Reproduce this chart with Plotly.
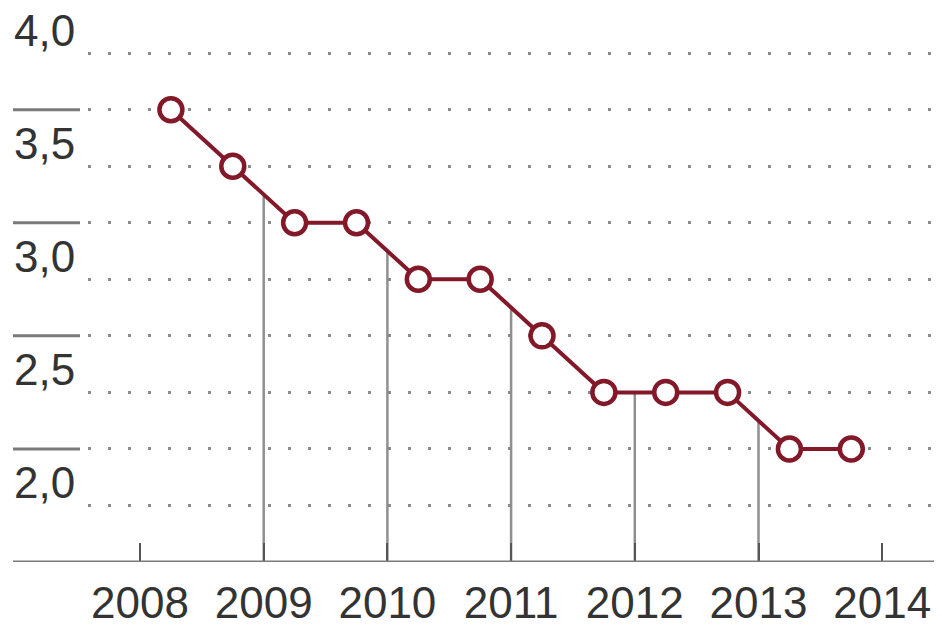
import plotly.graph_objects as go

# Data
x_dates = [2008.25, 2008.75, 2009.25, 2009.75, 2010.25, 2010.75,
           2011.25, 2011.75, 2012.25, 2012.75, 2013.25, 2013.75]
values = [3.5, 3.25, 3.0, 3.0, 2.75, 2.75, 2.5, 2.25, 2.25, 2.25, 2.0, 2.0]
years = [2008, 2009, 2010, 2011, 2012, 2013, 2014]
y_label_vals = [2.0, 2.5, 3.0, 3.5, 4.0]
y_label_text = ["2,0", "2,5", "3,0", "3,5", "4,0"]

# page has 8px body margin -> design figure as viewport minus offset
OFF = 8
W, H = 942 - OFF, 627 - OFF
L = 88 - OFF
R, T = 0, 0
px_per_year = 123.7
px_per_unit = 227.3
base_px = 564.8 - OFF
B = H - base_px
plot_w = W - L - R
plot_h = H - T - B
x0 = 2008 + (88 - 140) / px_per_year
x1 = 2008 + (942 - 140) / px_per_year
y_lo = 1.5
y_hi = y_lo + plot_h / px_per_unit

LINE = "#821828"
TXT = "#333333"
FONT = "Liberation Sans"

fig = go.Figure()

fig.add_trace(go.Scatter(
    x=x_dates, y=values, mode="lines+markers",
    line=dict(color=LINE, width=4),
    marker=dict(size=23, color="white", line=dict(color=LINE, width=4.5)),
    cliponaxis=False, showlegend=False, hoverinfo="skip"))


def px_to_paper(px):
    # px in reference-image coordinates
    return (px - OFF - L) / plot_w


def val_to_paper(v):
    return (v - y_lo) / (y_hi - y_lo)


shapes = []
# vertical connectors at mid-year
for i in range(len(x_dates) - 1):
    if i % 2 == 1:
        xm = (x_dates[i] + x_dates[i + 1]) / 2
        ym = (values[i] + values[i + 1]) / 2
        shapes.append(dict(type="line", xref="x", yref="y", x0=xm, x1=xm,
                           y0=y_lo, y1=ym, layer="below",
                           line=dict(color="#8f8f8f", width=2.5)))

# baseline
shapes.append(dict(type="line", xref="paper", yref="y", x0=px_to_paper(13), x1=1,
                   y0=y_lo, y1=y_lo, line=dict(color="#7a7a7a", width=3)))

# short solid lines by labels
for v in y_label_vals:
    shapes.append(dict(type="line", xref="paper", yref="paper",
                       x0=px_to_paper(13), x1=px_to_paper(80),
                       y0=val_to_paper(v), y1=val_to_paper(v),
                       line=dict(color="#7a7a7a", width=3)))

annotations = []
for v, t in zip(y_label_vals, y_label_text):
    annotations.append(dict(xref="paper", yref="paper", x=px_to_paper(12),
                            y=val_to_paper(v),
                            xanchor="left", yanchor="middle", yshift=-34,
                            text=t, showarrow=False,
                            font=dict(family=FONT, size=44, color=TXT)))

fig.update_layout(
    width=W, height=H,
    margin=dict(l=L, r=R, t=T, b=B),
    paper_bgcolor="white", plot_bgcolor="white",
    shapes=shapes, annotations=annotations,
    xaxis=dict(range=[x0, x1], tickvals=years, ticktext=[str(y) for y in years],
               ticks="inside", ticklen=19, tickwidth=2, tickcolor="#555555",
               showgrid=False, zeroline=False, showline=False,
               tickfont=dict(family=FONT, size=44, color=TXT),
               ticklabelstandoff=11),
    yaxis=dict(range=[y_lo, y_hi], tick0=1.75, dtick=0.25, showticklabels=False,
               showgrid=True, gridcolor="#8a8a8a", gridwidth=2.5,
               griddash="3px,17px", zeroline=False, showline=False),
)

fig.write_html("out.html")
